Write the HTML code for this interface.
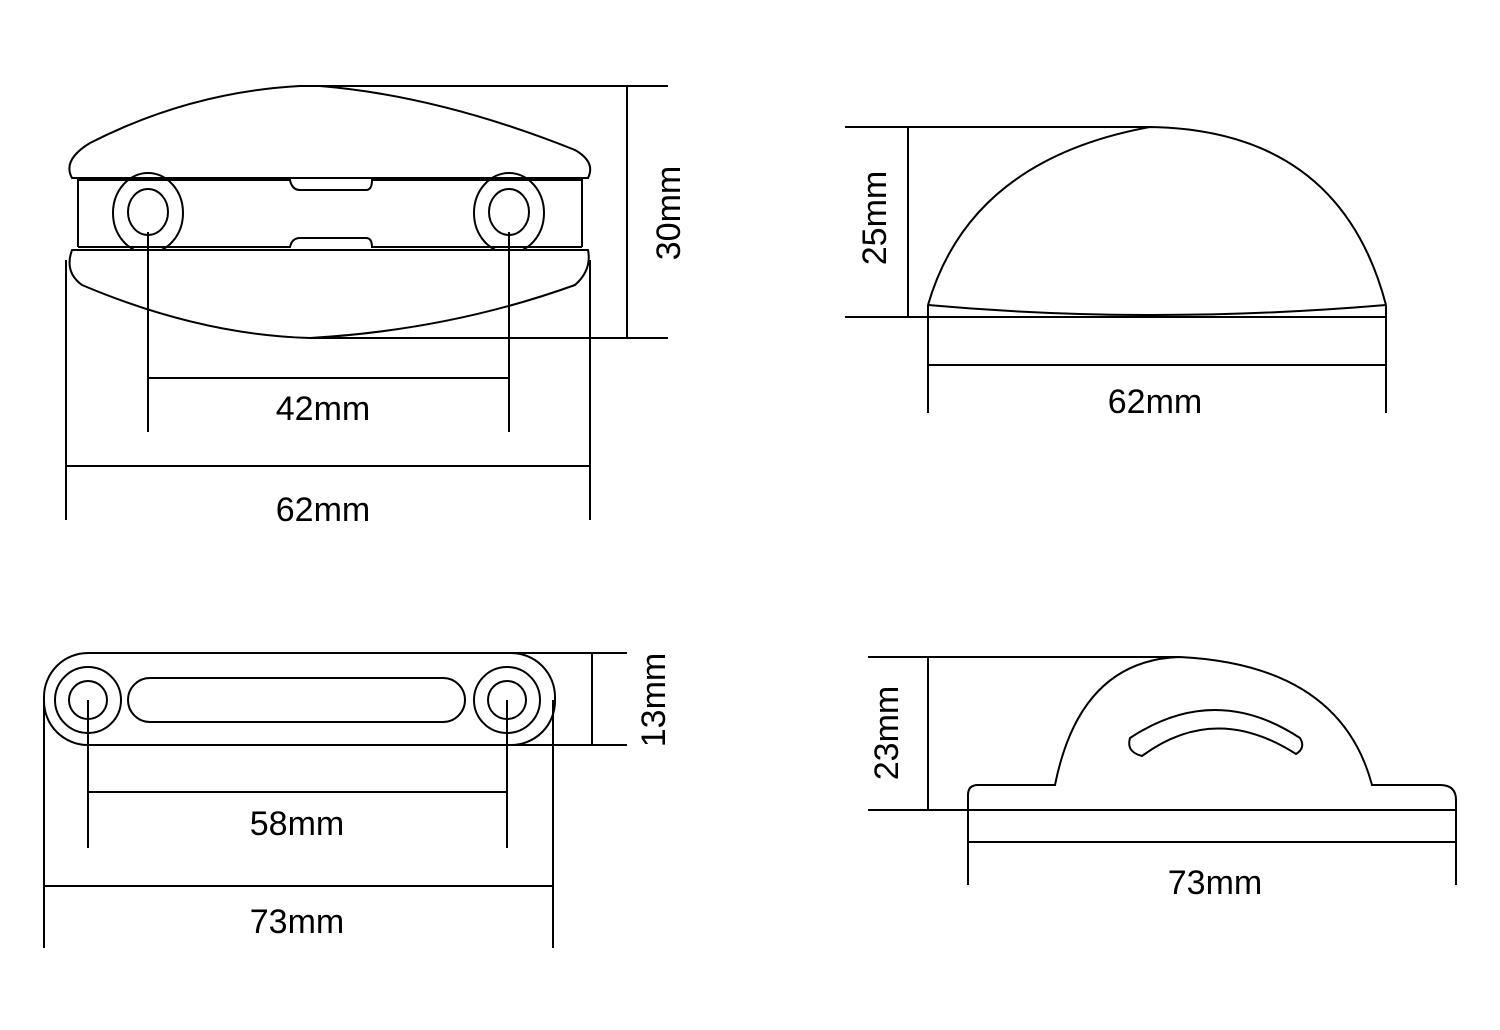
<!DOCTYPE html>
<html><head><meta charset="utf-8"><style>html,body{margin:0;padding:0;background:#fff}svg{display:block}</style></head>
<body>
<svg width="1500" height="1030" viewBox="0 0 1500 1030" xmlns="http://www.w3.org/2000/svg">
<g fill="none" stroke="#000" stroke-width="2">
<!-- top-left -->
<path d="M72,178 Q62,160 90,143 Q190,92 300,86 L320,86 Q440,96 575,150 Q596,162 588,178 Z"/>
<path d="M78,178 L78,247 M582,178 L582,247"/>
<path d="M78,180 L290,180 Q292,190 300,190 L366,190 Q372,190 372,180 L582,180"/>
<path d="M78,247 L290,247 Q292,238 300,238 L366,238 Q372,238 372,247 L582,247"/>
<ellipse cx="148" cy="213" rx="35" ry="40"/><ellipse cx="148" cy="212" rx="20" ry="23"/>
<ellipse cx="509" cy="213" rx="35" ry="40"/><ellipse cx="509" cy="212" rx="20" ry="23"/>
<path d="M72,250 Q64,272 82,285 Q200,335 310,338 Q450,330 575,285 Q592,270 588,250 Z" fill="#fff"/>
<path d="M300,86 L668,86 M310,338 L668,338 M627,86 L627,338"/>
<path d="M148,232 L148,432 M509,232 L509,432 M148,378 L509,378"/>
<path d="M66,260 L66,520 M590,260 L590,520 M66,466 L590,466"/>
<!-- top-right -->
<path d="M928,305 Q970,160 1150,127 Q1340,130 1386,305"/>
<path d="M928,305 Q1150,325 1386,305"/>
<path d="M845,127 L1150,127 M845,317 L1386,317 M908,127 L908,317"/>
<path d="M928,305 L928,413 M1386,305 L1386,413 M928,365 L1386,365"/>
<!-- bottom-left -->
<rect x="44" y="653" width="511" height="92" rx="44"/>
<circle cx="88" cy="700" r="33"/><circle cx="88" cy="700" r="19"/>
<circle cx="507" cy="700" r="33"/><circle cx="507" cy="700" r="19"/>
<rect x="128" y="678" width="337" height="44" rx="22"/>
<path d="M470,653 L627,653 M88,745 L627,745 M592,653 L592,745"/>
<path d="M88,700 L88,848 M507,700 L507,848 M88,792 L507,792"/>
<path d="M44,700 L44,948 M553,700 L553,948 M44,886 L553,886"/>
<!-- bottom-right -->
<path d="M968,810 L968,795 Q968,785 978,785 L1055,785 Q1080,660 1180,657 Q1340,665 1372,785 L1440,785 Q1456,785 1456,800 L1456,810"/>
<path d="M1130,738 Q1215,682 1300,738 Q1306,748 1296,754 Q1215,702 1142,756 Q1126,752 1130,738 Z"/>
<path d="M868,657 L1180,657 M868,810 L1456,810 M928,657 L928,810"/>
<path d="M968,800 L968,885 M1456,800 L1456,885 M968,842 L1456,842"/>
</g>
<g font-family="Liberation Sans, sans-serif" font-size="34" fill="#000" text-anchor="middle">
<text x="323" y="420">42mm</text>
<text x="323" y="521">62mm</text>
<text x="1155" y="413">62mm</text>
<text x="297" y="835">58mm</text>
<text x="297" y="933">73mm</text>
<text x="1215" y="894">73mm</text>
<text transform="translate(680,213) rotate(-90)">30mm</text>
<text transform="translate(886,218) rotate(-90)">25mm</text>
<text transform="translate(665,700) rotate(-90)">13mm</text>
<text transform="translate(898,733) rotate(-90)">23mm</text>
</g>
</svg>
</body></html>
